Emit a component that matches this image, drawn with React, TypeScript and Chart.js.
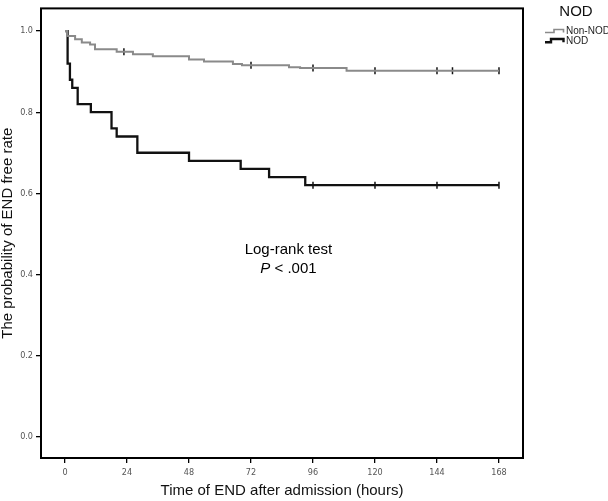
import React, { useEffect, useRef } from "react";
import { Chart, registerables } from "chart.js";

Chart.register(...registerables);

// ---- data ----
const xTickValues = [0, 24, 48, 72, 96, 120, 144, 168];
const yTickValues = [0, 0.2, 0.4, 0.6, 0.8, 1.0];

const nonNodTimes = [0, 0.8, 3.9, 6.5, 9.7, 11.6, 20, 26.3, 34, 48, 53.8, 65, 68.5, 86.7, 91, 109, 168];
const nonNodSurvival = [1.0, 0.988, 0.98, 0.972, 0.967, 0.955, 0.949, 0.943, 0.938, 0.93, 0.925, 0.919, 0.916, 0.911, 0.909, 0.902, 0.902];
const nonNodCensorTimes = [22.8, 72, 96, 120, 144, 150, 168];

const nodTimes = [0, 1, 1.9, 2.8, 4.9, 10, 18, 20, 28, 48, 68, 79, 93, 168];
const nodSurvival = [1.0, 0.92, 0.88, 0.86, 0.82, 0.8, 0.76, 0.74, 0.7, 0.68, 0.66, 0.64, 0.62, 0.62];
const nodCensorTimes = [96, 120, 144, 168];

const seriesLabels = ["Non-NOD", "NOD"];
const legendTitle = "NOD";
const xAxisTitle = "Time of END after admission (hours)";
const yAxisTitle = "The probability of END free rate";
const testLabel = "Log-rank test";
const pLabelItalic = "P";
const pLabelRest = " < .001";

// annotation anchor in data units
const annotX = 86.5;
const annotY1 = 0.46;
const annotY2 = 0.413;

const GRAY = "#8a8a8a";
const BLACK = "#111111";
const FONT = '"Liberation Sans", Arial, Helvetica, sans-serif';
const NARROW = '"Liberation Sans Narrow", "Arial Narrow", "DejaVu Sans Condensed", "Liberation Sans", sans-serif';

function survivalAt(times: number[], surv: number[], t: number): number {
  let v = surv[0];
  for (let i = 0; i < times.length; i++) {
    if (times[i] <= t) v = surv[i];
  }
  return v;
}

const overlayPlugin = {
  id: "overlay",
  afterDraw(chart: any) {
    const { ctx, chartArea: a, scales } = chart;
    ctx.save();
    // frame
    ctx.strokeStyle = "#000";
    ctx.lineWidth = 2;
    ctx.strokeRect(a.left, a.top, a.right - a.left, a.bottom - a.top);

    // annotation
    const cx = scales.x.getPixelForValue(annotX);
    const y1 = scales.y.getPixelForValue(annotY1);
    const y2 = scales.y.getPixelForValue(annotY2);
    ctx.fillStyle = "#000";
    ctx.textBaseline = "middle";
    ctx.font = `15px ${FONT}`;
    ctx.textAlign = "center";
    ctx.fillText(testLabel, cx, y1);
    ctx.font = `italic 15px ${FONT}`;
    const wP = ctx.measureText(pLabelItalic).width;
    ctx.font = `15px ${FONT}`;
    const wR = ctx.measureText(pLabelRest).width;
    const startX = cx - (wP + wR) / 2;
    ctx.textAlign = "left";
    ctx.font = `italic 15px ${FONT}`;
    ctx.fillText(pLabelItalic, startX, y2);
    ctx.font = `15px ${FONT}`;
    ctx.fillText(pLabelRest, startX + wP, y2);

    // legend
    ctx.textAlign = "center";
    ctx.font = `15px ${FONT}`;
    ctx.fillStyle = "#111";
    ctx.fillText(legendTitle, 576, 12);

    const items = [
      { label: seriesLabels[0], color: GRAY, width: 1.6, yLow: 32.5, yHigh: 29.5, step1: 554 },
      { label: seriesLabels[1], color: BLACK, width: 2.4, yLow: 42.3, yHigh: 39, step1: 551 },
    ];
    items.forEach((it) => {
      ctx.strokeStyle = it.color;
      ctx.lineWidth = it.width;
      ctx.beginPath();
      ctx.moveTo(545, it.yLow);
      ctx.lineTo(it.step1, it.yLow);
      ctx.lineTo(it.step1, it.yHigh);
      ctx.lineTo(563.5, it.yHigh);
      ctx.lineTo(563.5, it.yLow);
      ctx.stroke();
      ctx.fillStyle = "#222";
      ctx.font = `10px ${FONT}`;
      ctx.textAlign = "left";
      ctx.fillText(it.label, 566, (it.yLow + it.yHigh) / 2 + 0.5);
    });
    ctx.restore();
  },
};

export default function App() {
  const canvasRef = useRef<HTMLCanvasElement | null>(null);

  useEffect(() => {
    document.body.style.margin = "0";
    const canvas = canvasRef.current;
    if (!canvas) return;

    const nonNodLine = nonNodTimes.map((t, i) => ({ x: t, y: nonNodSurvival[i] }));
    const nodLine = nodTimes.map((t, i) => ({ x: t, y: nodSurvival[i] }));
    const nonNodCensor = nonNodCensorTimes.map((t) => ({ x: t, y: survivalAt(nonNodTimes, nonNodSurvival, t) }));
    const nodCensor = nodCensorTimes.map((t) => ({ x: t, y: survivalAt(nodTimes, nodSurvival, t) }));

    const chart = new Chart(canvas, {
      type: "line",
      data: {
        datasets: [
          {
            label: seriesLabels[0],
            data: nonNodLine,
            borderColor: GRAY,
            borderWidth: 2,
            stepped: "before",
            pointRadius: 0,
            fill: false,
          } as any,
          {
            label: seriesLabels[1],
            data: nodLine,
            borderColor: BLACK,
            borderWidth: 2.3,
            stepped: "before",
            pointRadius: 0,
            fill: false,
          } as any,
          {
            type: "scatter",
            label: seriesLabels[0] + " censored",
            data: nonNodCensor,
            showLine: false,
            pointStyle: "line",
            rotation: 90,
            pointRadius: 3.5,
            borderWidth: 1.5,
            borderColor: BLACK,
            backgroundColor: BLACK,
          } as any,
          {
            type: "scatter",
            label: seriesLabels[1] + " censored",
            data: nodCensor,
            showLine: false,
            pointStyle: "line",
            rotation: 90,
            pointRadius: 3.5,
            borderWidth: 1.5,
            borderColor: BLACK,
            backgroundColor: BLACK,
          } as any,
        ],
      },
      options: {
        responsive: false,
        animation: false,
        events: [],
        layout: { padding: { top: 1, right: 85, left: 0, bottom: 0 } },
        plugins: {
          legend: { display: false },
          tooltip: { enabled: false },
        },
        scales: {
          x: {
            type: "linear",
            min: -9.3,
            max: 177.3,
            afterBuildTicks: (s: any) => {
              s.ticks = xTickValues.map((v) => ({ value: v }));
            },
            afterFit: (s: any) => {
              s.height = 43;
            },
            ticks: {
              autoSkip: false,
              maxRotation: 0,
              padding: 4,
              color: "#555",
              font: { family: NARROW, size: 9 },
              callback: (v: any) => String(v),
            },
            grid: {
              drawOnChartArea: false,
              drawTicks: true,
              tickLength: 5,
              color: "#000",
              lineWidth: 1.3,
            },
            border: { display: false },
            title: {
              display: true,
              text: xAxisTitle,
              color: "#111",
              font: { family: FONT, size: 15 },
              padding: { top: 0, bottom: 1.5 },
            },
          },
          y: {
            type: "linear",
            min: -0.053,
            max: 1.056,
            afterBuildTicks: (s: any) => {
              s.ticks = yTickValues.map((v) => ({ value: v }));
            },
            afterFit: (s: any) => {
              s.width = 41;
            },
            ticks: {
              autoSkip: false,
              padding: 3,
              color: "#555",
              font: { family: NARROW, size: 9 },
              callback: (v: any) => Number(v).toFixed(1),
            },
            grid: {
              drawOnChartArea: false,
              drawTicks: true,
              tickLength: 5,
              color: "#000",
              lineWidth: 1.3,
            },
            border: { display: false },
            title: {
              display: true,
              text: yAxisTitle,
              color: "#111",
              font: { family: FONT, size: 15 },
              padding: { top: -1.5, bottom: 0 },
            },
          },
        },
      },
      plugins: [overlayPlugin],
    });

    return () => {
      chart.destroy();
    };
  }, []);

  return (
    <div style={{ position: "absolute", left: 0, top: 0, width: 608, height: 501 }}>
      <canvas ref={canvasRef} width={608} height={501} style={{ display: "block" }} />
    </div>
  );
}
